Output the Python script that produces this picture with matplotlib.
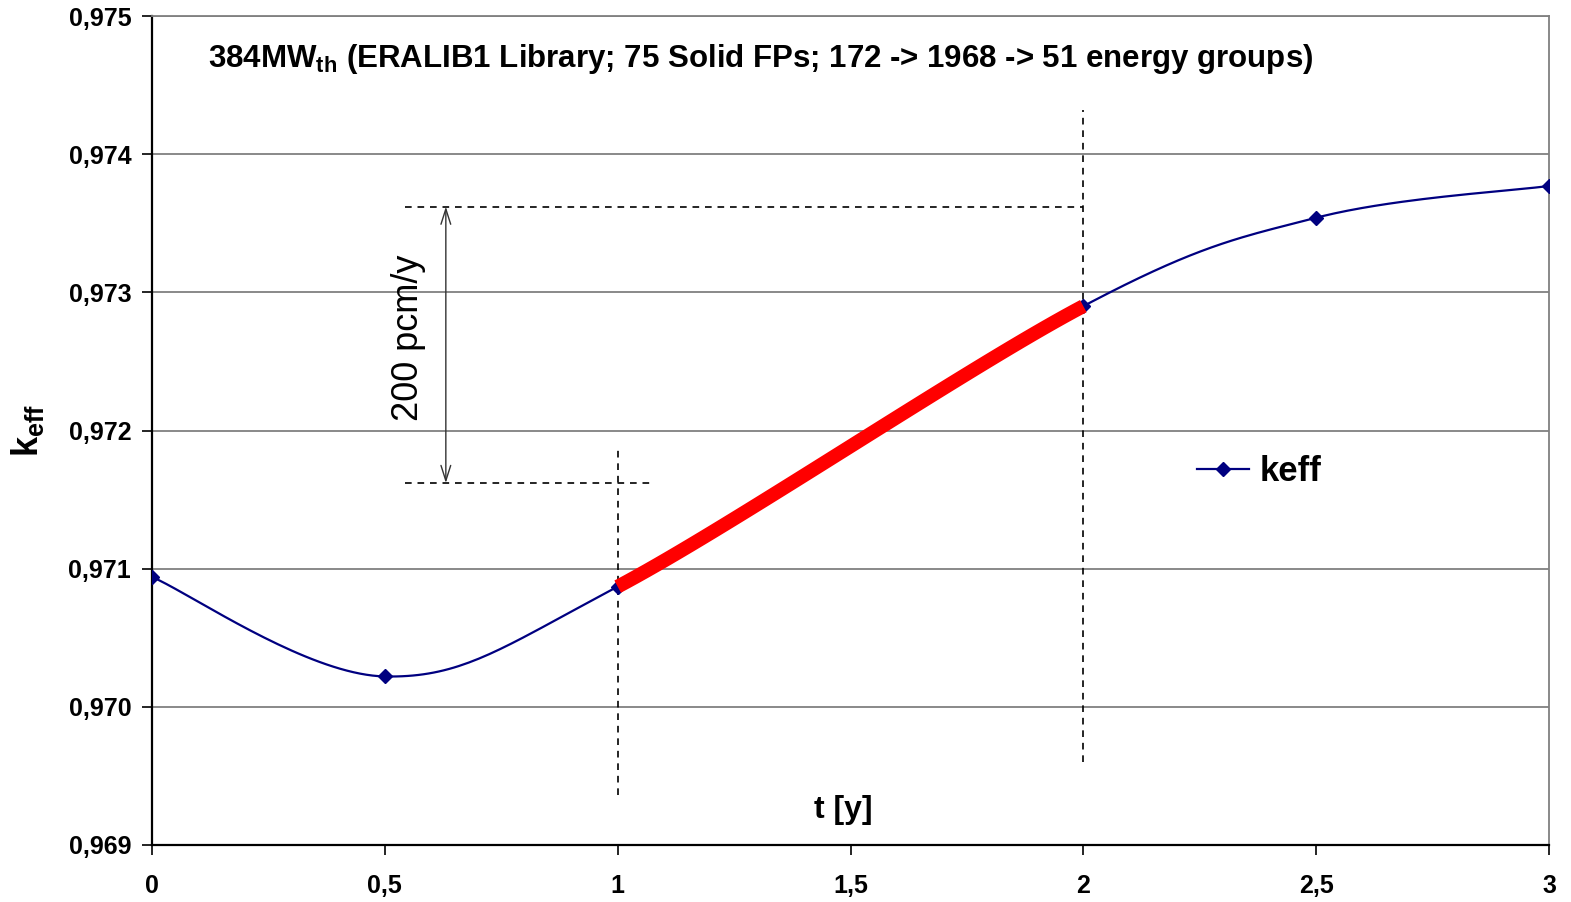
import matplotlib
matplotlib.use("Agg")
import matplotlib.pyplot as plt
import numpy as np
from matplotlib.ticker import FuncFormatter, MultipleLocator

plt.rcParams['font.family'] = ['Liberation Sans', 'DejaVu Sans']

# data
t = [0, 0.5, 1, 2, 2.5, 3]
keff = [0.97094, 0.97022, 0.97087, 0.97290, 0.97354, 0.97377]

# guide lines (slope indicator)
t_marks = [1, 2]
k_top = 0.97362
k_bot = 0.97162


def excel_smooth(x, y, n=40):
    # bezier smoothing like the spreadsheet "smoothed line" option
    x = np.asarray(x, float)
    y = np.asarray(y, float)
    xs, ys, seg = [], [], []
    m = len(x)
    for i in range(m - 1):
        p0 = np.array([x[i], y[i]])
        p3 = np.array([x[i + 1], y[i + 1]])
        pm = np.array([x[max(i - 1, 0)], y[max(i - 1, 0)]])
        pp = np.array([x[min(i + 2, m - 1)], y[min(i + 2, m - 1)]])
        c1 = p0 + (p3 - pm) / 6.0
        c2 = p3 - (pp - p0) / 6.0
        s = np.linspace(0, 1, n)[:, None]
        pts = (1 - s) ** 3 * p0 + 3 * (1 - s) ** 2 * s * c1 + 3 * (1 - s) * s ** 2 * c2 + s ** 3 * p3
        xs.append(pts[:, 0])
        ys.append(pts[:, 1])
        seg.append(np.full(n, i))
    return np.concatenate(xs), np.concatenate(ys), np.concatenate(seg)


fig = plt.figure(figsize=(15.71, 9.02), dpi=100)
ax = fig.add_axes([152 / 1571, 1 - 845 / 902, (1549 - 152) / 1571, (845 - 16) / 902])

ax.set_xlim(0, 3)
ax.set_ylim(0.969, 0.975)
ax.yaxis.set_major_locator(MultipleLocator(0.001))
ax.xaxis.set_major_locator(MultipleLocator(0.5))
ax.grid(axis='y', color='#808080', lw=1.3)
ax.set_axisbelow(True)

ax.yaxis.set_major_formatter(FuncFormatter(lambda v, p: ('%.3f' % v).replace('.', ',')))
ax.xaxis.set_major_formatter(FuncFormatter(lambda v, p: ('%g' % v).replace('.', ',')))
ax.tick_params(direction='out', length=7, width=1.2, labelsize=18, pad=8)
for lab in ax.get_xticklabels() + ax.get_yticklabels():
    lab.set_fontweight('bold')
ax.tick_params(axis='x', pad=14)

for s in ['left', 'bottom']:
    ax.spines[s].set_color('black')
    ax.spines[s].set_linewidth(1.6)
for s in ['top', 'right']:
    ax.spines[s].set_color('#808080')
    ax.spines[s].set_linewidth(1.3)

xs, ys, seg = excel_smooth(t, keff)
ax.plot(xs, ys, color='#000080', lw=1.6, zorder=3)
ax.plot(t, keff, ls='none', marker='D', ms=7, color='#000080', zorder=4)
ax.plot([], [], color='#000080', lw=1.6, marker='D', ms=7, label='keff')

# thick red part between t=1 and t=2
red = seg == 2
ax.plot(xs[red], ys[red], color='red', lw=10, solid_capstyle='butt', zorder=5)

dash = dict(color='black', lw=1.2, ls=(0, (4, 3.5)), zorder=2)
ax.plot([t_marks[0], t_marks[0]], [0.96936, 0.97186], **dash)
ax.plot([t_marks[1], t_marks[1]], [0.96960, 0.97432], **dash)
ax.plot([0.543, t_marks[1]], [k_top, k_top], **dash)
ax.plot([0.543, 1.069], [k_bot, k_bot], **dash)

ax.annotate('', xy=(0.631, k_top), xytext=(0.631, k_bot),
            arrowprops=dict(arrowstyle='<->,head_length=1.1,head_width=0.35',
                            color='#333333', lw=1.0, shrinkA=0, shrinkB=0))
ax.text(0.551, (k_top + k_bot) / 2 + 0.00005, '200 pcm/y', rotation=90,
        fontsize=26, ha='center', va='center')

ax.text(0.12, 0.97469, r'384MW$_{\mathregular{th}}$ (ERALIB1 Library; 75 Solid FPs; 172 -> 1968 -> 51 energy groups)',
        fontsize=22.5, fontweight='bold', ha='left', va='center')
ax.text(1.484, 0.96925, 't [y]', fontsize=23, fontweight='bold', ha='center', va='center')

fig.text(28 / 1571, 1 - 430 / 902, r'k$_{\mathregular{eff}}$', rotation=90,
         fontsize=26, fontweight='bold', ha='center', va='center')

ax.legend(loc='center left', bbox_to_anchor=(0.738, 1 - (472 - 16) / (845 - 16)), frameon=False,
          prop={'weight': 'bold', 'size': 25}, handlelength=1.5, handletextpad=0.3, borderaxespad=0)

fig.savefig('out.png', dpi=100)
